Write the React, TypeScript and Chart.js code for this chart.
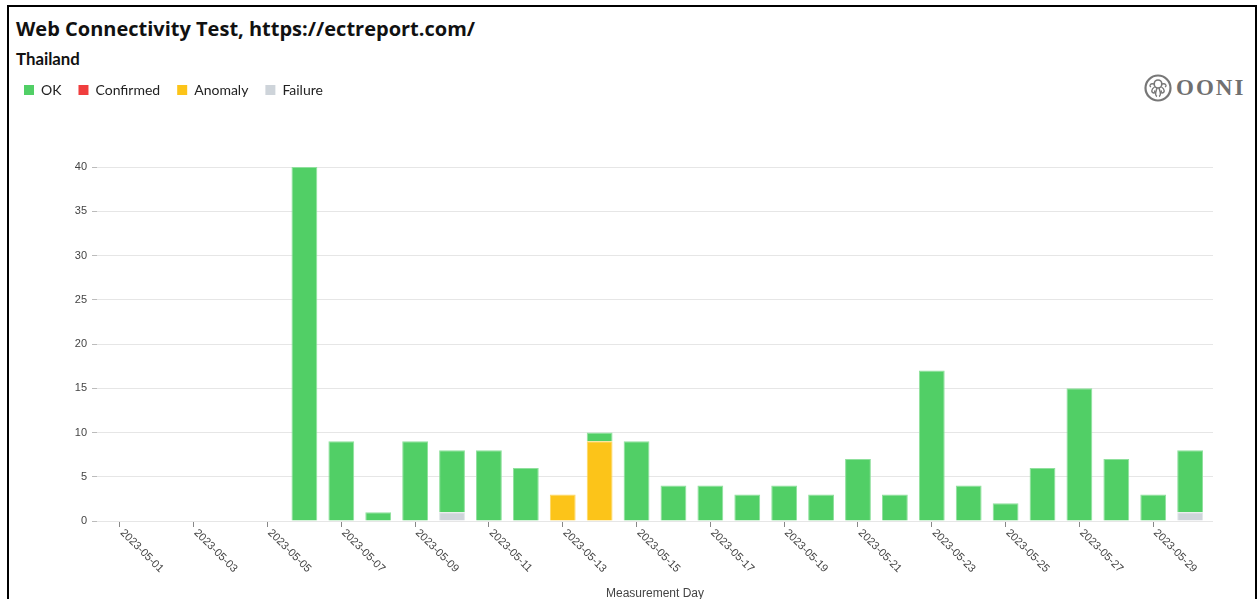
import React, { useEffect, useRef } from "react";
import { Chart, registerables } from "chart.js";

Chart.register(...registerables);

const days: string[] = [
  "2023-05-01", "2023-05-02", "2023-05-03", "2023-05-04", "2023-05-05",
  "2023-05-06", "2023-05-07", "2023-05-08", "2023-05-09", "2023-05-10",
  "2023-05-11", "2023-05-12", "2023-05-13", "2023-05-14", "2023-05-15",
  "2023-05-16", "2023-05-17", "2023-05-18", "2023-05-19", "2023-05-20",
  "2023-05-21", "2023-05-22", "2023-05-23", "2023-05-24", "2023-05-25",
  "2023-05-26", "2023-05-27", "2023-05-28", "2023-05-29", "2023-05-30",
];

const okCounts: number[] = [
  0, 0, 0, 0, 0, 40, 9, 1, 9, 7, 8, 6, 0, 1, 9, 4, 4, 3, 4, 3, 7, 3, 17, 4, 2, 6, 15, 7, 3, 7,
];
const confirmedCounts: number[] = [
  0, 0, 0, 0, 0, 0, 0, 0, 0, 0, 0, 0, 0, 0, 0, 0, 0, 0, 0, 0, 0, 0, 0, 0, 0, 0, 0, 0, 0, 0,
];
const anomalyCounts: number[] = [
  0, 0, 0, 0, 0, 0, 0, 0, 0, 0, 0, 0, 3, 9, 0, 0, 0, 0, 0, 0, 0, 0, 0, 0, 0, 0, 0, 0, 0, 0,
];
const failureCounts: number[] = [
  0, 0, 0, 0, 0, 0, 0, 0, 0, 1, 0, 0, 0, 0, 0, 0, 0, 0, 0, 0, 0, 0, 0, 0, 0, 0, 0, 0, 0, 1,
];

const yTicks: number[] = [0, 5, 10, 15, 20, 25, 30, 35, 40];

const TITLE = "Web Connectivity Test, https://ectreport.com/";
const SUBTITLE = "Thailand";
const X_TITLE = "Measurement Day";

const toPoints = (arr: number[]) =>
  arr.map((v, i) => ({ x: i, y: v === 0 ? null : v }));

const xLabelPlugin = {
  id: "rotatedXLabels",
  afterDraw(chart: any) {
    const s = chart.scales.x;
    const ctx = chart.ctx;
    ctx.save();
    ctx.font = '11px "Liberation Sans", Arial, sans-serif';
    ctx.fillStyle = "#444";
    ctx.textAlign = "left";
    ctx.textBaseline = "middle";
    s.ticks.forEach((t: any) => {
      const x = s.getPixelForValue(t.value);
      ctx.save();
      ctx.translate(x + 2, s.top + 10);
      ctx.rotate(Math.PI / 4);
      ctx.fillText(days[t.value], 0, 0);
      ctx.restore();
    });
    ctx.restore();
  },
};

export default function App() {
  const ref = useRef<HTMLCanvasElement | null>(null);

  useEffect(() => {
    if (!ref.current) return;
    const chart = new Chart(ref.current, {
      type: "bar",
      data: {
        datasets: [
          {
            label: "Failure",
            data: toPoints(failureCounts) as any,
            backgroundColor: "#ced4da",
            borderColor: "#e1e5e9",
            borderWidth: 1,
          },
          {
            label: "Anomaly",
            data: toPoints(anomalyCounts) as any,
            backgroundColor: "#fcc419",
            borderColor: "#fdd762",
            borderWidth: 1,
          },
          {
            label: "Confirmed",
            data: toPoints(confirmedCounts) as any,
            backgroundColor: "#f03e3e",
            borderColor: "#f57a7a",
            borderWidth: 1,
          },
          {
            label: "OK",
            data: toPoints(okCounts) as any,
            backgroundColor: "#51cf66",
            borderColor: "#8fe09d",
            borderWidth: 1,
          },
        ],
      },
      options: {
        animation: false,
        responsive: true,
        maintainAspectRatio: false,
        barPercentage: 0.7,
        categoryPercentage: 1,
        layout: { padding: { left: 0, right: 43, top: 0, bottom: 0 } },
        plugins: {
          legend: {
            position: "top",
            align: "start",
            labels: {
              boxWidth: 10,
              boxHeight: 10,
              padding: 17,
              color: "#222",
              font: { family: "Lato, 'Noto Sans', sans-serif", size: 14 },
              sort: (a: any, b: any) => b.datasetIndex - a.datasetIndex,
              generateLabels: (c: any) =>
                (Chart.defaults.plugins.legend.labels as any)
                  .generateLabels(c)
                  .map((l: any) => ({ ...l, lineWidth: 0 })),
            },
          },
          tooltip: { enabled: false },
        },
        scales: {
          x: {
            type: "linear",
            position: "bottom",
            stacked: true,
            min: -0.62,
            max: days.length - 1 + 0.62,
            offset: false,
            afterBuildTicks: (s: any) => {
              s.ticks = days
                .map((_, i) => i)
                .filter((i) => i % 2 === 0)
                .map((v) => ({ value: v }));
            },
            afterFit: (s: any) => {
              s.height = 83;
            },
            ticks: { display: false },
            grid: {
              display: true,
              offset: false,
              drawOnChartArea: false,
              drawTicks: true,
              tickLength: 6,
              tickColor: "#888",
            },
            border: { display: false },
            title: {
              display: true,
              text: X_TITLE,
              color: "#444",
              font: { family: "'Liberation Sans', Arial, sans-serif", size: 12 },
              padding: { top: 4, bottom: 3 },
            },
          },
          xTop: {
            type: "linear",
            axis: "x",
            position: "top",
            display: true,
            ticks: { display: false },
            grid: { display: false },
            border: { display: false },
            afterFit: (s: any) => {
              s.height = 60;
            },
          },
          y: {
            type: "linear",
            stacked: true,
            min: 0,
            max: 40,
            afterBuildTicks: (s: any) => {
              s.ticks = yTicks.map((v) => ({ value: v }));
            },
            afterFit: (s: any) => {
              s.width = 90;
            },
            ticks: {
              padding: 5,
              color: "#444",
              font: { family: "'Liberation Sans', Arial, sans-serif", size: 11 },
            },
            grid: {
              color: "#e6e6e6",
              tickLength: 5,
              tickColor: "#bbb",
            },
            border: { display: false },
          },
        },
      } as any,
      plugins: [xLabelPlugin],
    });
    return () => chart.destroy();
  }, []);

  return (
    <div
      style={{
        position: "absolute",
        left: 0,
        top: 0,
        width: 1258,
        height: 599,
        overflow: "hidden",
        background: "#fff",
      }}
    >
      <div
        style={{
          position: "absolute",
          left: 7,
          top: 5,
          width: 1250,
          height: 700,
          border: "2px solid #000",
          boxSizing: "border-box",
        }}
      />
      <div
        style={{
          position: "absolute",
          left: 16,
          top: 19,
          fontFamily: "'Open Sans', 'Noto Sans', sans-serif",
          fontWeight: 700,
          fontSize: 20,
          lineHeight: "20px",
          color: "#111",
          whiteSpace: "nowrap",
        }}
      >
        {TITLE}
      </div>
      <div
        style={{
          position: "absolute",
          left: 16,
          top: 51,
          fontFamily: "Lato, 'Noto Sans', sans-serif",
          fontWeight: 700,
          fontSize: 16.8,
          lineHeight: "16px",
          color: "#111",
          whiteSpace: "nowrap",
        }}
      >
        {SUBTITLE}
      </div>
      <div
        style={{
          position: "absolute",
          left: 1143,
          top: 74,
          height: 28,
          display: "flex",
          alignItems: "center",
          color: "#707070",
        }}
      >
        <svg width="30" height="28" viewBox="0 0 30 28">
          <circle cx="15" cy="14" r="12.5" fill="none" stroke="#777" strokeWidth="2.2" />
          <ellipse cx="15" cy="10" rx="3.8" ry="4" fill="none" stroke="#777" strokeWidth="1.6" />
          <path d="M11.5 13 C8 15, 8 19, 11 19 C12.5 19, 12.5 17, 11 17" fill="none" stroke="#777" strokeWidth="1.4" />
          <path d="M18.5 13 C22 15, 22 19, 19 19 C17.5 19, 17.5 17, 19 17" fill="none" stroke="#777" strokeWidth="1.4" />
          <path d="M14 14 C13 18, 11 21, 14 22.5" fill="none" stroke="#777" strokeWidth="1.4" />
          <path d="M16 14 C17 18, 19 21, 16 22.5" fill="none" stroke="#777" strokeWidth="1.4" />
          <path d="M11 10 C7 9, 6 12, 8 13" fill="none" stroke="#777" strokeWidth="1.3" />
          <path d="M19 10 C23 9, 24 12, 22 13" fill="none" stroke="#777" strokeWidth="1.3" />
        </svg>
        <span
          style={{
            marginLeft: 3,
            fontFamily: "'Liberation Serif', 'DejaVu Serif', serif",
            fontWeight: 700,
            fontSize: 23,
            letterSpacing: 2,
            lineHeight: "28px",
          }}
        >
          OONI
        </span>
      </div>
      <div
        style={{
          position: "absolute",
          left: 7,
          top: 66,
          width: 1249,
          height: 538,
        }}
      >
        <canvas ref={ref} />
      </div>
    </div>
  );
}
